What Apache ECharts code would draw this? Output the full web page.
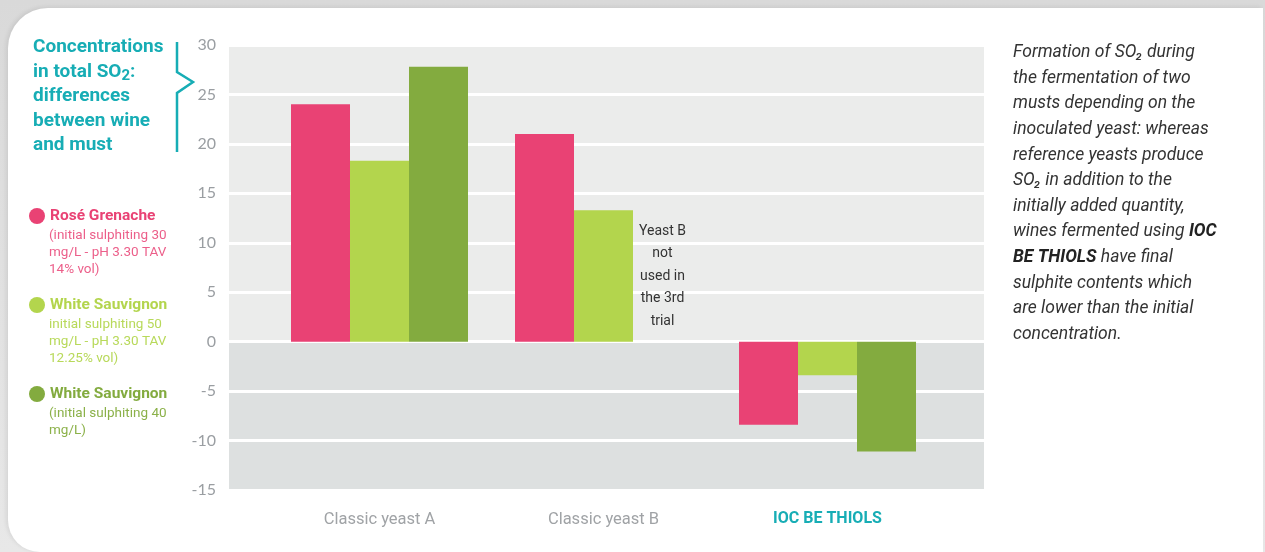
<!DOCTYPE html>
<html>
<head>
<meta charset="utf-8">
<script src="https://cdn.jsdelivr.net/npm/echarts@6/dist/echarts.min.js"></script>
<style>
  html, body { margin: 0; padding: 0; width: 1265px; height: 552px; overflow: hidden;
    background: linear-gradient(180deg, #d9d9d9 0%, #e8e8e8 100%); }
  #card { position: absolute; left: 8px; top: 8px; width: 1255px; height: 544px; background: #fff;
    border-top-left-radius: 40px; border-bottom-left-radius: 32px;
    box-shadow: -2px -1px 4px rgba(0,0,0,0.08); }
  #chart { position: absolute; left: 0; top: 0; width: 1265px; height: 552px; }
</style>
</head>
<body>
<div id="card"></div>
<div id="chart"></div>
<script>
// ---- data ----
const categories = ['Classic yeast A', 'Classic yeast B', 'IOC BE THIOLS'];
const seriesNames = ['Rosé Grenache', 'White Sauvignon', 'White Sauvignon '];
const roseGrenache = [24.0, 21.0, -8.4];
const whiteSauvignon50 = [18.3, 13.3, -3.4];
const whiteSauvignon40 = [27.8, null, -11.1];
const yTicks = { min: -15, max: 30, interval: 5 };
const legendNotes = [
  '(initial sulphiting 30\nmg/L - pH 3.30 TAV\n14% vol)',
  'initial sulphiting 50\nmg/L - pH 3.30 TAV\n12.25% vol)',
  '(initial sulphiting 40\nmg/L)'
];
const annotation = 'Yeast B\nnot\nused in\nthe 3rd\ntrial';

const PINK = '#e94274', LGREEN = '#b3d54d', DGREEN = '#83ab3f', TEAL = '#17adb5';
const FONT = 'Roboto, "Liberation Sans", sans-serif';

const chart = echarts.init(document.getElementById('chart'));

// dark green series data: missing value for yeast B carries the annotation label
const dgData = whiteSauvignon40.map((v, i) => v === null ? {
  value: 0,
  itemStyle: { color: 'rgba(0,0,0,0)' },
  label: { show: true, position: 'top', distance: 9, formatter: annotation,
    color: '#333', fontSize: 14, lineHeight: 22.5, fontFamily: FONT, align: 'center' }
} : v);

const bandColors = ['#dde0e0', '#dde0e0', '#dde0e0', '#ebeceb', '#ebeceb', '#ebeceb', '#ebeceb', '#ebeceb', '#ebeceb'];

const option = {
  animation: false,
  grid: [
    { left: 229, right: 281, top: 45, bottom: 62 },
    { left: 267.5, right: 325.5, top: 45, bottom: 62 }
  ],
  xAxis: [
    { gridIndex: 0, type: 'value', show: false, min: 0, max: 1 },
    { gridIndex: 1, type: 'category', data: categories,
      axisLine: { show: false }, axisTick: { show: false },
      axisLabel: { margin: 21, fontFamily: FONT, fontSize: 16.5, color: '#a0a3a6',
        formatter: v => v === 'IOC BE THIOLS' ? '{b|' + v + '}' : v,
        rich: { b: { fontWeight: 'bold', color: TEAL, fontSize: 16, fontFamily: FONT } } } }
  ],
  yAxis: [
    { gridIndex: 0, type: 'value', min: yTicks.min, max: yTicks.max, interval: yTicks.interval,
      axisLine: { show: false }, axisTick: { show: false },
      axisLabel: { margin: 13, fontFamily: 'Lato, ' + FONT, fontSize: 16, color: '#9a9ea2' },
      splitLine: { show: true, lineStyle: { color: '#ffffff', width: 3 } },
      splitArea: { show: true, areaStyle: { color: bandColors } } },
    { gridIndex: 1, type: 'value', min: yTicks.min, max: yTicks.max, interval: yTicks.interval, show: false,
      splitLine: { show: false } }
  ],
  legend: {
    orient: 'vertical', left: 24, top: 203, itemWidth: 16, itemHeight: 16, itemGap: 73,
    icon: 'circle', selectedMode: false,
    textStyle: { fontFamily: FONT, fontSize: 15.5, fontWeight: 'bold' },
    data: [
      { name: seriesNames[0], textStyle: { color: PINK } },
      { name: seriesNames[1], textStyle: { color: LGREEN } },
      { name: seriesNames[2], textStyle: { color: DGREEN } }
    ]
  },
  series: [
    { name: seriesNames[0], type: 'bar', xAxisIndex: 1, yAxisIndex: 1, data: roseGrenache,
      barWidth: 59, barGap: '0%', itemStyle: { color: PINK } },
    { name: seriesNames[1], type: 'bar', xAxisIndex: 1, yAxisIndex: 1, data: whiteSauvignon50,
      barWidth: 59, barGap: '0%', itemStyle: { color: LGREEN } },
    { name: seriesNames[2], type: 'bar', xAxisIndex: 1, yAxisIndex: 1, data: dgData,
      barWidth: 59, barGap: '0%', itemStyle: { color: DGREEN } }
  ],
  graphic: [
    { type: 'text', left: 33, top: 35, style: {
        text: 'Concentrations\n{t|in total SO}{s|2}{t|:}\ndifferences\nbetween wine\nand must',
        fill: TEAL, font: 'bold 19px ' + FONT, lineHeight: 24.5,
        rich: { t: { fill: TEAL, font: 'bold 19px ' + FONT, lineHeight: 24.5 },
                s: { fill: TEAL, font: 'bold 15px ' + FONT, lineHeight: 24.5, verticalAlign: 'bottom' } } } },
    { type: 'polyline', shape: { points: [[177, 42], [177, 72], [193, 82], [177, 93], [177, 152]] },
      style: { stroke: TEAL, lineWidth: 2.5, fill: null } },
    { type: 'text', left: 49, top: 227.5, style: { text: legendNotes[0], fill: '#ec5f8a', font: '13.5px ' + FONT, lineHeight: 17 } },
    { type: 'text', left: 49, top: 316.5, style: { text: legendNotes[1], fill: '#b8d95a', font: '13.5px ' + FONT, lineHeight: 17 } },
    { type: 'text', left: 49, top: 405.5, style: { text: legendNotes[2], fill: '#8bb149', font: '13.5px ' + FONT, lineHeight: 17 } },
    { type: 'text', left: 1013, top: 40, style: {
        text: 'Formation of SO₂ during\nthe fermentation of two\nmusts depending on the\ninoculated yeast: whereas\nreference yeasts produce\nSO₂ in addition to the\ninitially added quantity,\nwines fermented using {b|IOC}\n{b|BE THIOLS} have final\nsulphite contents which\nare lower than the initial\nconcentration.',
        fill: '#333', font: 'italic 17.5px ' + FONT, lineHeight: 25.6,
        rich: { b: { fill: '#222', font: 'italic bold 17.5px ' + FONT, lineHeight: 25.6 } } } }
  ]
};
chart.setOption(option);
</script>
</body>
</html>
